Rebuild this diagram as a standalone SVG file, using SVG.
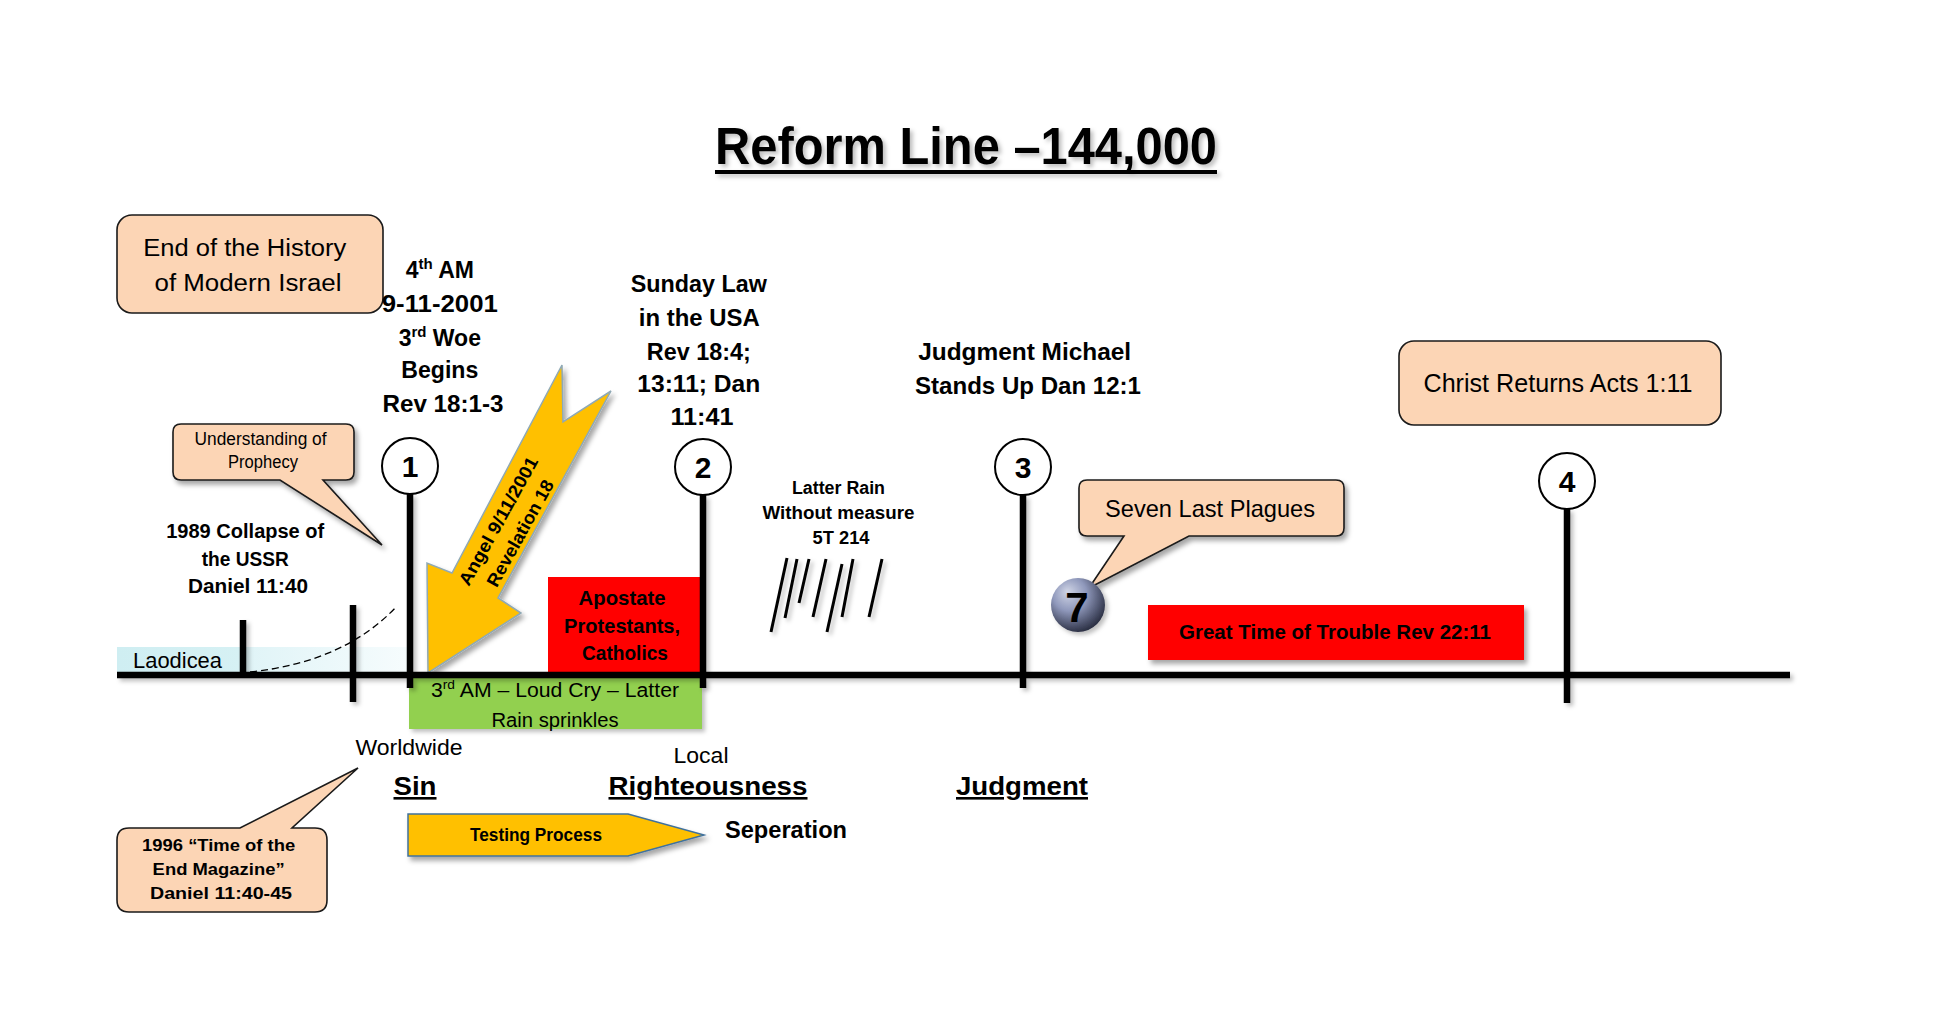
<svg xmlns="http://www.w3.org/2000/svg" width="1934" height="1036" viewBox="0 0 1934 1036">
<defs>
<style>
text{font-family:"Liberation Sans",Arial,sans-serif;fill:#000}
.b{font-weight:bold}
.m{text-anchor:middle}
.call{fill:#FCD5B5;stroke:#1a1a1a;stroke-width:1.6}
.circ{fill:#fff;stroke:#000;stroke-width:2}
.vline{stroke:#000;stroke-width:6.5;fill:none}
.rain{stroke:#000;stroke-width:3;fill:none}
.num{font-weight:bold;font-size:30px;text-anchor:middle}
.ul{text-decoration:underline}
</style>
<filter id="sh" x="-20%" y="-20%" width="150%" height="150%">
<feDropShadow dx="3" dy="4" stdDeviation="2.5" flood-color="#000" flood-opacity="0.35"/>
</filter>
<filter id="shl" x="-20%" y="-20%" width="150%" height="150%">
<feDropShadow dx="3" dy="3" stdDeviation="2" flood-color="#000" flood-opacity="0.25"/>
</filter>
<linearGradient id="lao" x1="0" y1="0" x2="1" y2="0">
<stop offset="0" stop-color="#cfeef2"/>
<stop offset="0.43" stop-color="#d6f1f4"/>
<stop offset="0.45" stop-color="#e0f4f7"/>
<stop offset="1" stop-color="#f6fcfd"/>
</linearGradient>
<radialGradient id="ball" cx="0.4" cy="0.35" r="0.7" fx="0.3" fy="0.25">
<stop offset="0" stop-color="#d0d5e6"/>
<stop offset="0.45" stop-color="#8f98bb"/>
<stop offset="1" stop-color="#23273a"/>
</radialGradient>
</defs>
<rect width="1934" height="1036" fill="#fff"/>

<g id="title" filter="url(#shl)">
<text class="b" x="715" y="164" font-size="51" textLength="502" lengthAdjust="spacingAndGlyphs">Reform Line –144,000</text>
<rect x="715" y="170" width="502" height="4" fill="#000"/>
</g>

<g id="laodicea">
<rect x="117" y="647" width="290" height="28" fill="url(#lao)"/>
<text x="133" y="668" font-size="22" textLength="89" lengthAdjust="spacingAndGlyphs">Laodicea</text>
</g>

<g id="apostate">
<rect x="548" y="577" width="153" height="97" fill="#FF0000"/>
<text class="b m" font-size="21" fill="#1a0000">
<tspan x="625" y="605" textLength="87" lengthAdjust="spacingAndGlyphs">Apostate</tspan>
<tspan x="625" y="633" textLength="116" lengthAdjust="spacingAndGlyphs">Protestants,</tspan>
<tspan x="625" y="660" textLength="86" lengthAdjust="spacingAndGlyphs">Catholics</tspan>
</text>
</g>

<g id="great-trouble">
<rect x="1148" y="605" width="376" height="55" fill="#FF0000" filter="url(#sh)"/>
<text class="b m" x="1335" y="639" font-size="20" textLength="312" lengthAdjust="spacingAndGlyphs" fill="#1a0000">Great Time of Trouble Rev 22:11</text>
</g>

<g id="angel-arrow">
<path d="M428,673 L427,563 L452,573 L562,365 L563,422 L611,391 L498,598 L521,613 Z" fill="#FFC000" stroke="#8fa9b5" stroke-width="1.5" filter="url(#sh)"/>
<g transform="translate(509,527) rotate(-61)">
<text class="b m" x="0" y="-6" font-size="18" textLength="144" lengthAdjust="spacingAndGlyphs">Angel 9/11/2001</text>
<text class="b m" x="0" y="19" font-size="18" textLength="119" lengthAdjust="spacingAndGlyphs">Revelation 18</text>
</g>
</g>

<g id="green-loud-cry">
<rect x="409" y="677" width="293" height="52" fill="#92D050" filter="url(#shl)"/>
<text class="m" x="555" y="697" font-size="20" textLength="248" lengthAdjust="spacingAndGlyphs">3<tspan dy="-8" font-size="13">rd</tspan><tspan dy="8"> AM – Loud Cry – Latter</tspan></text>
<text class="m" x="555" y="727" font-size="20" textLength="127" lengthAdjust="spacingAndGlyphs">Rain sprinkles</text>
</g>

<g id="connectors">
<path d="M250,672 Q345,662 397,606" fill="none" stroke="#000" stroke-width="1.3" stroke-dasharray="7,4"/>
</g>

<g id="timeline" filter="url(#shl)">
<line x1="117" y1="675" x2="1790" y2="675" class="vline"/>
<line x1="243" y1="620" x2="243" y2="677" class="vline"/>
<line x1="353" y1="605" x2="353" y2="702" class="vline"/>
<line x1="410" y1="494" x2="410" y2="688" class="vline"/>
<line x1="703" y1="495" x2="703" y2="688" class="vline"/>
<line x1="1023" y1="495" x2="1023" y2="688" class="vline"/>
<line x1="1567" y1="509" x2="1567" y2="703" class="vline"/>
</g>

<g id="point-1">
<circle cx="410" cy="466" r="28" class="circ"/>
<text class="num" x="410" y="477">1</text>
</g>
<g id="point-2">
<circle cx="703" cy="467" r="28" class="circ"/>
<text class="num" x="703" y="478">2</text>
</g>
<g id="point-3">
<circle cx="1023" cy="467" r="28" class="circ"/>
<text class="num" x="1023" y="478">3</text>
</g>
<g id="point-4">
<circle cx="1567" cy="481" r="28" class="circ"/>
<text class="num" x="1567" y="492">4</text>
</g>

<g id="end-history">
<rect x="117" y="215" width="266" height="98" rx="15" class="call"/>
<text class="m" font-size="23">
<tspan x="248" y="256" textLength="203" lengthAdjust="spacingAndGlyphs">End of the History</tspan>
<tspan x="248" y="291" textLength="187" lengthAdjust="spacingAndGlyphs">of Modern Israel</tspan>
</text>
</g>

<g id="fourth-am">
<text class="b m" font-size="23">
<tspan x="443" y="278">4<tspan dy="-9" font-size="15">th</tspan><tspan dy="9"> AM</tspan></tspan>
<tspan x="443" y="312" textLength="116" lengthAdjust="spacingAndGlyphs">9-11-2001</tspan>
<tspan x="443" y="346">3<tspan dy="-9" font-size="15">rd</tspan><tspan dy="9"> Woe</tspan></tspan>
<tspan x="443" y="378" textLength="77" lengthAdjust="spacingAndGlyphs">Begins</tspan>
<tspan x="443" y="412" textLength="121" lengthAdjust="spacingAndGlyphs">Rev 18:1-3</tspan>
</text>
</g>

<g id="understanding">
<path d="M181,424 H346 Q354,424 354,432 V472 Q354,480 346,480 H323 L382,545 L280,480 H181 Q173,480 173,472 V432 Q173,424 181,424 Z" class="call" filter="url(#sh)"/>
<text class="m" font-size="17.5">
<tspan x="263" y="445" textLength="132" lengthAdjust="spacingAndGlyphs">Understanding of</tspan>
<tspan x="263" y="468" textLength="70" lengthAdjust="spacingAndGlyphs">Prophecy</tspan>
</text>
</g>

<g id="collapse-1989">
<text class="b m" font-size="20">
<tspan x="248" y="538" textLength="158" lengthAdjust="spacingAndGlyphs">1989 Collapse of</tspan>
<tspan x="248" y="566" textLength="87" lengthAdjust="spacingAndGlyphs">the USSR</tspan>
<tspan x="248" y="593" textLength="120" lengthAdjust="spacingAndGlyphs">Daniel 11:40</tspan>
</text>
</g>

<g id="sunday-law">
<text class="b m" font-size="23">
<tspan x="702" y="292" textLength="136" lengthAdjust="spacingAndGlyphs">Sunday Law</tspan>
<tspan x="702" y="326" textLength="120" lengthAdjust="spacingAndGlyphs">in the USA</tspan>
<tspan x="702" y="360" textLength="104" lengthAdjust="spacingAndGlyphs">Rev 18:4;</tspan>
<tspan x="702" y="392" textLength="123" lengthAdjust="spacingAndGlyphs">13:11; Dan</tspan>
<tspan x="702" y="425" textLength="63" lengthAdjust="spacingAndGlyphs">11:41</tspan>
</text>
</g>

<g id="latter-rain">
<text class="b m" font-size="18">
<tspan x="841" y="494" textLength="93" lengthAdjust="spacingAndGlyphs">Latter Rain</tspan>
<tspan x="841" y="519" textLength="152" lengthAdjust="spacingAndGlyphs">Without measure</tspan>
<tspan x="841" y="544" textLength="57" lengthAdjust="spacingAndGlyphs">5T 214</tspan>
</text>
<g filter="url(#shl)">
<line x1="787" y1="558" x2="771" y2="632" class="rain"/>
<line x1="797" y1="559" x2="785" y2="618" class="rain"/>
<line x1="809" y1="559" x2="799" y2="603" class="rain"/>
<line x1="826" y1="559" x2="813" y2="617" class="rain"/>
<line x1="842" y1="564" x2="827" y2="632" class="rain"/>
<line x1="853" y1="559" x2="842" y2="617" class="rain"/>
<line x1="882" y1="559" x2="869" y2="617" class="rain"/>
</g>
</g>

<g id="judgment-michael">
<text class="b m" font-size="24">
<tspan x="1028" y="360" textLength="213" lengthAdjust="spacingAndGlyphs">Judgment Michael</tspan>
<tspan x="1028" y="394" textLength="226" lengthAdjust="spacingAndGlyphs">Stands Up Dan 12:1</tspan>
</text>
</g>

<g id="seven-plagues">
<path d="M1087,480 H1336 Q1344,480 1344,488 V528 Q1344,536 1336,536 H1189 L1089,588 L1124,536 H1087 Q1079,536 1079,528 V488 Q1079,480 1087,480 Z" class="call" filter="url(#sh)"/>
<text class="m" x="1210" y="517" font-size="24" textLength="210" lengthAdjust="spacingAndGlyphs">Seven Last Plagues</text>
</g>

<g id="ball-7">
<circle cx="1078" cy="605" r="27" fill="url(#ball)" filter="url(#shl)"/>
<text class="b m" x="1077" y="622" font-size="42">7</text>
</g>

<g id="christ-returns">
<rect x="1399" y="341" width="322" height="84" rx="15" class="call"/>
<text class="m" x="1558" y="392" font-size="25" textLength="269" lengthAdjust="spacingAndGlyphs">Christ Returns Acts 1:11</text>
</g>

<g id="worldwide">
<text class="m" x="409" y="755" font-size="22" textLength="107" lengthAdjust="spacingAndGlyphs">Worldwide</text>
</g>
<g id="local">
<text class="m" x="701" y="763" font-size="22" textLength="55" lengthAdjust="spacingAndGlyphs">Local</text>
</g>
<g id="sin">
<text class="b m ul" x="415" y="795" font-size="26" textLength="43" lengthAdjust="spacingAndGlyphs">Sin</text>
</g>
<g id="righteousness">
<text class="b m ul" x="708" y="795" font-size="26" textLength="199" lengthAdjust="spacingAndGlyphs">Righteousness</text>
</g>
<g id="judgment">
<text class="b m ul" x="1022" y="795" font-size="26" textLength="132" lengthAdjust="spacingAndGlyphs">Judgment</text>
</g>

<g id="testing-process">
<path d="M408,814 H628 L704,835 L628,856 H408 Z" fill="#FFC000" stroke="#41719c" stroke-width="1.5" filter="url(#sh)"/>
<text class="b m" x="536" y="841" font-size="18" textLength="132" lengthAdjust="spacingAndGlyphs">Testing Process</text>
</g>

<g id="seperation">
<text class="b m" x="786" y="838" font-size="23" textLength="122" lengthAdjust="spacingAndGlyphs">Seperation</text>
</g>

<g id="callout-1996">
<path d="M129,828 H240 L358,768 L292,828 H315 Q327,828 327,840 V900 Q327,912 315,912 H129 Q117,912 117,900 V840 Q117,828 129,828 Z" class="call"/>
<text class="b m" font-size="17">
<tspan x="221" y="851" textLength="153" lengthAdjust="spacingAndGlyphs">1996 “Time of the</tspan>
<tspan x="221" y="875" textLength="132" lengthAdjust="spacingAndGlyphs">End Magazine”</tspan>
<tspan x="221" y="899" textLength="142" lengthAdjust="spacingAndGlyphs">Daniel 11:40-45</tspan>
</text>
</g>
</svg>
